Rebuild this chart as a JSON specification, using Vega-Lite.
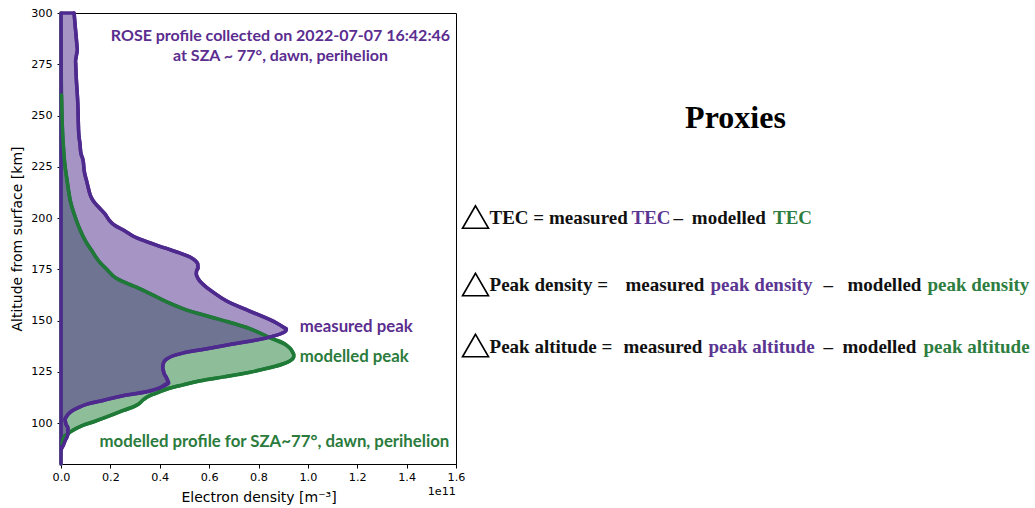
{
  "$schema": "https://vega.github.io/schema/vega-lite/v6.json",
  "background": "white",
  "padding": {"left": 10, "top": 6, "right": 0, "bottom": 0},
  "bounds": "flush",
  "spacing": 0,
  "resolve": {"scale": {"x": "independent", "y": "independent", "color": "independent"}},
  "config": {
    "font": "DejaVu Sans",
    "axis": {
      "domainColor": "black", "tickColor": "black", "labelColor": "black", "titleColor": "black",
      "labelFont": "DejaVu Sans", "titleFont": "DejaVu Sans", "labelFontSize": 11.2, "titleFontSize": 14,
      "titleFontWeight": "normal", "tickSize": 4, "labelPadding": 3, "grid": false, "labelFlush": false
    }
  },
  "datasets": {
    "measured": [
      {"altitude": 300, "density": 0.053}, {"altitude": 293, "density": 0.058}, {"altitude": 286.3, "density": 0.063},
      {"altitude": 282, "density": 0.066}, {"altitude": 276.6, "density": 0.059}, {"altitude": 268, "density": 0.062},
      {"altitude": 260.5, "density": 0.066}, {"altitude": 253, "density": 0.069}, {"altitude": 247.3, "density": 0.07},
      {"altitude": 241, "density": 0.072}, {"altitude": 236.1, "density": 0.077}, {"altitude": 232, "density": 0.08},
      {"altitude": 227.8, "density": 0.09}, {"altitude": 223, "density": 0.094}, {"altitude": 218, "density": 0.104},
      {"altitude": 214, "density": 0.112}, {"altitude": 211.7, "density": 0.117}, {"altitude": 208.3, "density": 0.131},
      {"altitude": 205, "density": 0.155}, {"altitude": 202, "density": 0.178}, {"altitude": 199, "density": 0.195},
      {"altitude": 197.1, "density": 0.21}, {"altitude": 193.7, "density": 0.259}, {"altitude": 191, "density": 0.295},
      {"altitude": 188.8, "density": 0.339}, {"altitude": 185.4, "density": 0.42}, {"altitude": 182.5, "density": 0.49},
      {"altitude": 180.5, "density": 0.529}, {"altitude": 177.6, "density": 0.554}, {"altitude": 175.5, "density": 0.555},
      {"altitude": 174.1, "density": 0.549}, {"altitude": 172.5, "density": 0.548}, {"altitude": 170.7, "density": 0.554},
      {"altitude": 167.8, "density": 0.574}, {"altitude": 163.5, "density": 0.62}, {"altitude": 159.5, "density": 0.671},
      {"altitude": 154.6, "density": 0.764}, {"altitude": 148.8, "density": 0.873}, {"altitude": 146.5, "density": 0.905},
      {"altitude": 145.9, "density": 0.913}, {"altitude": 144.8, "density": 0.91}, {"altitude": 143.9, "density": 0.897},
      {"altitude": 141.5, "density": 0.832}, {"altitude": 138.5, "density": 0.695}, {"altitude": 136, "density": 0.58},
      {"altitude": 134.1, "density": 0.493}, {"altitude": 131.2, "density": 0.428}, {"altitude": 129, "density": 0.414},
      {"altitude": 126.8, "density": 0.412}, {"altitude": 124, "density": 0.418}, {"altitude": 121.95, "density": 0.428},
      {"altitude": 119.5, "density": 0.436}, {"altitude": 117.1, "density": 0.4}, {"altitude": 115.6, "density": 0.36},
      {"altitude": 113.2, "density": 0.246}, {"altitude": 111, "density": 0.17}, {"altitude": 109.3, "density": 0.109},
      {"altitude": 107.5, "density": 0.07}, {"altitude": 105.85, "density": 0.044}, {"altitude": 104, "density": 0.027},
      {"altitude": 101.95, "density": 0.016}, {"altitude": 99.5, "density": 0.02}, {"altitude": 97.6, "density": 0.028},
      {"altitude": 94.6, "density": 0.028}, {"altitude": 91.2, "density": 0.016}, {"altitude": 88.8, "density": 0.008},
      {"altitude": 87.5, "density": 0.002}, {"altitude": 86, "density": 0}, {"altitude": 80, "density": 0}
    ],
    "modelled": [
      {"altitude": 300, "density": 0}, {"altitude": 285, "density": 0.0005}, {"altitude": 270, "density": 0.001},
      {"altitude": 260, "density": 0.002}, {"altitude": 250, "density": 0.004}, {"altitude": 240, "density": 0.007},
      {"altitude": 236, "density": 0.009}, {"altitude": 228, "density": 0.014}, {"altitude": 218, "density": 0.025},
      {"altitude": 208.3, "density": 0.038}, {"altitude": 200, "density": 0.059}, {"altitude": 194, "density": 0.078},
      {"altitude": 188.8, "density": 0.099}, {"altitude": 184, "density": 0.125}, {"altitude": 179, "density": 0.153},
      {"altitude": 175, "density": 0.185}, {"altitude": 170.8, "density": 0.221}, {"altitude": 168, "density": 0.27},
      {"altitude": 165.4, "density": 0.32}, {"altitude": 163, "density": 0.362}, {"altitude": 159, "density": 0.43},
      {"altitude": 155.7, "density": 0.496}, {"altitude": 150.8, "density": 0.634}, {"altitude": 145.9, "density": 0.767},
      {"altitude": 141.5, "density": 0.848}, {"altitude": 137.6, "density": 0.917}, {"altitude": 135.3, "density": 0.935},
      {"altitude": 133.3, "density": 0.943}, {"altitude": 132, "density": 0.942}, {"altitude": 130.5, "density": 0.93},
      {"altitude": 128.9, "density": 0.901}, {"altitude": 126.8, "density": 0.84}, {"altitude": 124.8, "density": 0.767},
      {"altitude": 122.5, "density": 0.66}, {"altitude": 120.6, "density": 0.565}, {"altitude": 118.5, "density": 0.49},
      {"altitude": 116.6, "density": 0.43}, {"altitude": 114.5, "density": 0.385}, {"altitude": 113.5, "density": 0.362},
      {"altitude": 111.5, "density": 0.335}, {"altitude": 109.3, "density": 0.315}, {"altitude": 106, "density": 0.25},
      {"altitude": 102.7, "density": 0.18}, {"altitude": 100.5, "density": 0.13}, {"altitude": 98.7, "density": 0.086},
      {"altitude": 96.2, "density": 0.045}, {"altitude": 94.5, "density": 0.025}, {"altitude": 93, "density": 0.011},
      {"altitude": 89.8, "density": 0.004}, {"altitude": 87, "density": 0}, {"altitude": 80, "density": 0}
    ],
    "notes": [
      {"label": "ROSE profile collected on 2022-07-07 16:42:46", "density": 0.889, "altitude": 288.6, "series": "measured", "anchor": "center"},
      {"label": "at SZA ~ 77°, dawn, perihelion", "density": 0.889, "altitude": 278.9, "series": "measured", "anchor": "center"},
      {"label": "measured peak", "density": 0.967, "altitude": 146.9, "series": "measured", "anchor": "left"},
      {"label": "modelled peak", "density": 0.967, "altitude": 132.3, "series": "modelled", "anchor": "left"},
      {"label": "modelled profile for SZA~77°, dawn, perihelion", "density": 1.573, "altitude": 90.6, "series": "modelled", "anchor": "right"}
    ],
    "offset": [{"label": "1e11", "density": 1.6, "altitude": 66.5}],
    "triangles": [
      {"fx": 0.0337, "fy": 0.4523}, {"fx": 0.0337, "fy": 0.602}, {"fx": 0.0337, "fy": 0.7373}
    ],
    "title": [{"t": "Proxies", "fx": 0.4827, "fy": 0.255}],
    "segments": [
      {"t": "TEC = measured", "fx": 0.0579, "fy": 0.4678, "c": "k"},
      {"t": "TEC", "fx": 0.3031, "fy": 0.4678, "c": "m"},
      {"t": "–", "fx": 0.3756, "fy": 0.4678, "c": "k"},
      {"t": "modelled", "fx": 0.4073, "fy": 0.4678, "c": "k"},
      {"t": "TEC", "fx": 0.5475, "fy": 0.4678, "c": "g"},
      {"t": "Peak density =", "fx": 0.0579, "fy": 0.6164, "c": "k"},
      {"t": "measured", "fx": 0.2927, "fy": 0.6164, "c": "k"},
      {"t": "peak density", "fx": 0.4396, "fy": 0.6164, "c": "m"},
      {"t": "–", "fx": 0.6347, "fy": 0.6164, "c": "k"},
      {"t": "modelled", "fx": 0.6762, "fy": 0.6164, "c": "k"},
      {"t": "peak density", "fx": 0.8143, "fy": 0.6164, "c": "g"},
      {"t": "Peak altitude =", "fx": 0.0579, "fy": 0.7539, "c": "k"},
      {"t": "measured", "fx": 0.2893, "fy": 0.7539, "c": "k"},
      {"t": "peak altitude", "fx": 0.4361, "fy": 0.7539, "c": "m"},
      {"t": "–", "fx": 0.6347, "fy": 0.7539, "c": "k"},
      {"t": "modelled", "fx": 0.6675, "fy": 0.7539, "c": "k"},
      {"t": "peak altitude", "fx": 0.8074, "fy": 0.7539, "c": "g"}
    ]
  },
  "hconcat": [
    {
      "width": 395,
      "height": 451,
      "view": {"stroke": "black", "strokeWidth": 1},
      "encoding": {
        "x": {"field": "density", "type": "quantitative",
          "scale": {"domain": [0, 1.6], "nice": false},
          "axis": {"values": [0, 0.2, 0.4, 0.6, 0.8, 1.0, 1.2, 1.4, 1.6], "format": ".1f", "title": "Electron density [m⁻³]", "titlePadding": 8}},
        "y": {"field": "altitude", "type": "quantitative",
          "scale": {"domain": [80, 300], "nice": false, "zero": false},
          "axis": {"values": [100, 125, 150, 175, 200, 225, 250, 275, 300], "title": "Altitude from surface [km]", "titlePadding": 6, "labelPadding": 5}}
      },
      "layer": [
        {"data": {"name": "modelled"},
         "mark": {"type": "area", "orient": "horizontal", "interpolate": "monotone", "fill": "#1E7B34", "fillOpacity": 0.5, "stroke": "#1F7A37", "strokeWidth": 3.5, "strokeJoin": "round"}},
        {"data": {"name": "measured"},
         "mark": {"type": "area", "orient": "horizontal", "interpolate": "monotone", "fill": "#4D2C8A", "fillOpacity": 0.5, "stroke": "#4E2A8E", "strokeWidth": 3.5, "strokeJoin": "round"}},
        {"data": {"name": "modelled"},
         "transform": [{"filter": "datum.altitude < 262 && datum.altitude > 89"}],
         "mark": {"type": "line", "interpolate": "monotone", "orient": "horizontal", "color": "#1F7A37", "strokeWidth": 3.5, "strokeJoin": "round", "strokeCap": "round"},
         "encoding": {"order": {"field": "altitude", "type": "quantitative"}}},
        {"data": {"name": "measured"},
         "transform": [{"filter": "datum.altitude > 86.5"}],
         "mark": {"type": "line", "interpolate": "monotone", "orient": "horizontal", "color": "#4E2A8E", "strokeWidth": 3.5, "strokeJoin": "round", "strokeCap": "round"},
         "encoding": {"order": {"field": "altitude", "type": "quantitative"}}},
        {"data": {"name": "notes"},
         "transform": [{"filter": "datum.anchor === 'center'"}],
         "mark": {"type": "text", "font": "Lato", "fontWeight": "bold", "fontSize": 16, "align": "center", "baseline": "middle"},
         "encoding": {"text": {"field": "label"},
           "color": {"field": "series", "type": "nominal", "scale": {"domain": ["measured", "modelled"], "range": ["#5A2D8F", "#2B7B3D"]}, "legend": null}}},
        {"data": {"name": "notes"},
         "transform": [{"filter": "datum.anchor === 'left'"}],
         "mark": {"type": "text", "font": "Lato", "fontWeight": "bold", "fontSize": 16.8, "align": "left", "baseline": "middle"},
         "encoding": {"text": {"field": "label"},
           "color": {"field": "series", "type": "nominal", "scale": {"domain": ["measured", "modelled"], "range": ["#5A2D8F", "#2B7B3D"]}, "legend": null}}},
        {"data": {"name": "notes"},
         "transform": [{"filter": "datum.anchor === 'right'"}],
         "mark": {"type": "text", "font": "Lato", "fontWeight": "bold", "fontSize": 16.8, "align": "right", "baseline": "middle"},
         "encoding": {"text": {"field": "label"},
           "color": {"field": "series", "type": "nominal", "scale": {"domain": ["measured", "modelled"], "range": ["#5A2D8F", "#2B7B3D"]}, "legend": null}}},
        {"data": {"name": "offset"},
         "mark": {"type": "text", "font": "DejaVu Sans", "fontSize": 11.2, "align": "right", "baseline": "middle", "color": "black"},
         "encoding": {"text": {"field": "label"}}}
      ]
    },
    {
      "width": 579,
      "height": 451,
      "view": {"stroke": null},
      "encoding": {
        "x": {"field": "fx", "type": "quantitative", "scale": {"domain": [0, 1], "nice": false, "zero": false}, "axis": null},
        "y": {"field": "fy", "type": "quantitative", "scale": {"domain": [0, 1], "nice": false, "zero": false, "reverse": true}, "axis": null}
      },
      "layer": [
        {"data": {"name": "triangles"},
         "mark": {"type": "point", "shape": "triangle-up", "size": 676, "filled": false, "stroke": "black", "strokeWidth": 1.6, "opacity": 1}},
        {"data": {"name": "title"},
         "mark": {"type": "text", "font": "Liberation Serif", "fontWeight": "bold", "fontSize": 32, "align": "center", "baseline": "alphabetic", "color": "black"},
         "encoding": {"text": {"field": "t"}}},
        {"data": {"name": "segments"},
         "mark": {"type": "text", "font": "Liberation Serif", "fontWeight": "bold", "fontSize": 19, "align": "left", "baseline": "alphabetic"},
         "encoding": {"text": {"field": "t"},
           "color": {"field": "c", "type": "nominal", "scale": {"domain": ["k", "m", "g"], "range": ["#111111", "#5B3592", "#2E7D40"]}, "legend": null}}}
      ]
    }
  ]
}
